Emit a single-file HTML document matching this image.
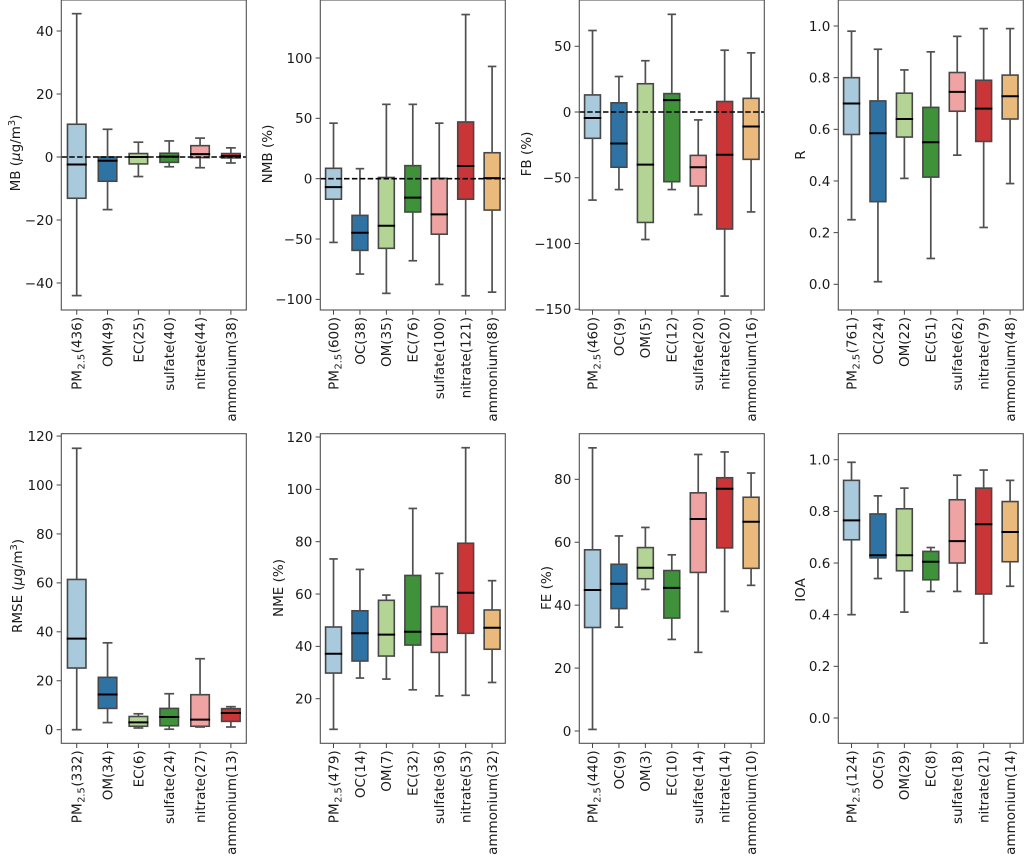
<!DOCTYPE html>
<html lang="en">
<head>
<meta charset="utf-8">
<title>Model performance statistics box plots</title>
<style>
html,body{margin:0;padding:0;background:#fff;}
svg{display:block;font-family:"DejaVu Sans","Liberation Sans",sans-serif;}
</style>
</head>
<body>
<svg id="figure" xmlns="http://www.w3.org/2000/svg" width="1024" height="856" viewBox="0 0 1024 856"></svg>
<script>
// ---- MB ----
const mbNames = ["PM2.5","OM","EC","sulfate","nitrate","ammonium"];
const mbCounts = [436,49,25,40,44,38];
const mbLow = [-44,-16.7,-6.2,-3.1,-3.4,-1.9];
const mbQ1 = [-13.1,-7.7,-2.2,-1.7,-0.2,-0.3];
const mbMedian = [-2.4,-1.2,0,0.1,0.9,0.3];
const mbQ3 = [10.4,0,1.1,1.2,3.6,1.1];
const mbHigh = [45.5,8.8,4.7,5.1,6,2.9];
const mbTicks = [-40,-20,0,20,40];
const mbDomain = [-48.57,49.84];
// ---- NMB ----
const nmbNames = ["PM2.5","OC","OM","EC","sulfate","nitrate","ammonium"];
const nmbCounts = [600,38,35,76,100,121,88];
const nmbLow = [-52.8,-79,-95,-68,-87.6,-97,-94];
const nmbQ1 = [-17,-59.4,-57.7,-27.6,-46,-17,-26];
const nmbMedian = [-7,-44.8,-39,-15.7,-29.6,10.5,0.5];
const nmbQ3 = [8.6,-30.4,1,10.8,0.3,47,21.5];
const nmbHigh = [46,8.3,61.6,61.6,46,136,93];
const nmbTicks = [-100,-50,0,50,100];
const nmbDomain = [-108.8,148.05];
// ---- FB ----
const fbNames = ["PM2.5","OC","OM","EC","sulfate","nitrate","ammonium"];
const fbCounts = [460,9,5,12,20,20,16];
const fbLow = [-67,-59,-97,-59,-78,-140,-76];
const fbQ1 = [-20,-42,-84,-53,-56.3,-89,-36];
const fbMedian = [-4.6,-24,-40,9,-42,-32.5,-11];
const fbQ3 = [13,7,21.5,14,-33,8,10.4];
const fbHigh = [62,27,39,74.3,-6,47,45];
const fbTicks = [-150,-100,-50,0,50];
const fbDomain = [-150.6,85.2];
// ---- R ----
const rNames = ["PM2.5","OC","OM","EC","sulfate","nitrate","ammonium"];
const rCounts = [761,24,22,51,62,79,48];
const rLow = [0.25,0.01,0.41,0.10,0.50,0.22,0.39];
const rQ1 = [0.58,0.32,0.57,0.415,0.67,0.553,0.64];
const rMedian = [0.70,0.585,0.64,0.55,0.745,0.68,0.728];
const rQ3 = [0.80,0.71,0.74,0.685,0.82,0.79,0.81];
const rHigh = [0.98,0.91,0.83,0.90,0.96,0.99,0.99];
const rTicks = [0,0.2,0.4,0.6,0.8,1];
const rDomain = [-0.0995,1.1007];
// ---- RMSE ----
const rmseNames = ["PM2.5","OM","EC","sulfate","nitrate","ammonium"];
const rmseCounts = [332,34,6,24,27,13];
const rmseLow = [0,2.9,0.7,0.2,1.1,1.1];
const rmseQ1 = [25.2,8.7,1.4,1.6,1.4,3.4];
const rmseMedian = [37.2,14.4,3,5.2,4.1,6.8];
const rmseQ3 = [61.4,21.4,5.4,8.7,14.3,8.6];
const rmseHigh = [115,35.5,6.5,14.7,29,9.4];
const rmseTicks = [0,20,40,60,80,100,120];
const rmseDomain = [-5.56,120.96];
// ---- NME ----
const nmeNames = ["PM2.5","OC","OM","EC","sulfate","nitrate","ammonium"];
const nmeCounts = [479,14,7,32,36,53,32];
const nmeLow = [8.3,27.9,27.5,23.4,21.1,21.3,26.2];
const nmeQ1 = [29.8,34.4,36.3,40.5,37.7,45,38.9];
const nmeMedian = [37.2,45,44.5,45.6,44.7,60.5,47.1];
const nmeQ3 = [47.4,53.6,57.6,67.1,55.2,79.4,53.9];
const nmeHigh = [73.4,69.4,59.6,92.7,67.9,115.9,65.1];
const nmeTicks = [20,40,60,80,100,120];
const nmeDomain = [2.96,121.26];
// ---- FE ----
const feNames = ["PM2.5","OC","OM","EC","sulfate","nitrate","ammonium"];
const feCounts = [440,9,3,10,14,14,10];
const feLow = [0.5,33,45,29.1,25,38,46.3];
const feQ1 = [32.9,38.9,48.4,35.9,50.4,58.2,51.7];
const feMedian = [44.8,46.8,51.9,45.5,67.4,77,66.5];
const feQ3 = [57.6,53,58.3,51,75.7,80.5,74.3];
const feHigh = [90,62,64.7,56,87.9,88.7,82];
const feTicks = [0,20,40,60,80];
const feDomain = [-3.91,94.5];
// ---- IOA ----
const ioaNames = ["PM2.5","OC","OM","EC","sulfate","nitrate","ammonium"];
const ioaCounts = [124,5,29,8,18,21,14];
const ioaLow = [0.40,0.54,0.41,0.49,0.49,0.29,0.51];
const ioaQ1 = [0.69,0.62,0.57,0.535,0.60,0.48,0.605];
const ioaMedian = [0.765,0.63,0.63,0.605,0.685,0.75,0.72];
const ioaQ3 = [0.92,0.79,0.81,0.645,0.845,0.89,0.838];
const ioaHigh = [0.99,0.86,0.89,0.66,0.94,0.96,0.92];
const ioaTicks = [0,0.2,0.4,0.6,0.8,1];
const ioaDomain = [-0.098,1.1007];

const boxColors = ["#a9c9dc","#2f73a5","#b3d495","#3f913a","#efa3a2","#ca3537","#e9ba7c"];
const SVG_NS = "http://www.w3.org/2000/svg";
const figure = document.getElementById("figure");

function make(tag, attrs, parent) {
  const node = document.createElementNS(SVG_NS, tag);
  for (const key in attrs) node.setAttribute(key, attrs[key]);
  parent.appendChild(node);
  return node;
}

function tickText(v, decimals) {
  const s = Math.abs(v).toFixed(decimals);
  return (v < 0 ? "\u2212" : "") + s;
}

function addYTitle(textEl, title) {
  if (title.unit) {
    textEl.appendChild(document.createTextNode(title.name + " ("));
    const mu = make("tspan", {"font-style":"italic"}, textEl);
    mu.textContent = "\u03bc";
    textEl.appendChild(document.createTextNode("g/m"));
    const sup = make("tspan", {"font-size":"9.8","dy":"-5"}, textEl);
    sup.textContent = "3";
    const close = make("tspan", {"dy":"5"}, textEl);
    close.textContent = ")";
  } else {
    textEl.textContent = title.name;
  }
}

function drawPanel(p) {
  const left = p.left, top = p.top, w = 185, h = p.height, bottom = top + h;
  const n = p.names.length;
  const step = w / n;
  const x = i => left + (i + 0.5) * step;
  const y = v => top + (p.domain[1] - v) / (p.domain[1] - p.domain[0]) * h;

  const g = make("g", {}, figure);
  
  

  const bg = make("rect", {x:left, y:top, width:w, height:h, fill:"#fff"}, g);
  
  

  for (let i = 0; i < n; i++) {
    const cx = x(i);
    const boxW = 0.6 * step;
    const capW = 0.3 * step + 0.6;
    const cat = p.names[i].toLowerCase().replace(".", "");

    const box = make("rect", {x:cx - boxW / 2, y:y(p.q3[i]), width:boxW, height:Math.abs(y(p.q1[i]) - y(p.q3[i])), fill:boxColors[i], stroke:"#474747", "stroke-width":1.6}, g);
    
    

    const whiskerHi = make("line", {x1:cx, x2:cx, y1:y(p.q3[i]), y2:y(p.high[i]), stroke:"#505050", "stroke-width":1.7}, g);
    
    

    const whiskerLo = make("line", {x1:cx, x2:cx, y1:y(p.q1[i]), y2:y(p.low[i]), stroke:"#505050", "stroke-width":1.7}, g);
    
    

    const capHi = make("line", {x1:cx - capW / 2, x2:cx + capW / 2, y1:y(p.high[i]), y2:y(p.high[i]), stroke:"#505050", "stroke-width":1.7}, g);
    
    

    const capLo = make("line", {x1:cx - capW / 2, x2:cx + capW / 2, y1:y(p.low[i]), y2:y(p.low[i]), stroke:"#505050", "stroke-width":1.7}, g);
    
    

    const med = make("line", {x1:cx - boxW / 2 - 0.8, x2:cx + boxW / 2 + 0.8, y1:y(p.median[i]), y2:y(p.median[i]), stroke:"#000", "stroke-width":2}, g);
    
    

    const tick = make("line", {x1:cx, x2:cx, y1:bottom, y2:bottom + 4.7, stroke:"#444", "stroke-width":1}, g);
    
    

    const label = make("text", {transform:"translate(" + cx + "," + (bottom + 7) + ") rotate(-90)", "text-anchor":"end", "font-size":"13.5", dy:"0.36em", fill:"#1a1a1a"}, g);
    
    
    if (p.names[i] === "PM2.5") {
      label.appendChild(document.createTextNode("PM"));
      const sub = make("tspan", {"font-size":"9.8", dy:"3", dx:"0.6"}, label);
      sub.textContent = "2.5";
      const rest = make("tspan", {dy:"-3", dx:"0.6"}, label);
      rest.textContent = "(" + p.counts[i] + ")";
    } else {
      label.textContent = p.names[i] + "(" + p.counts[i] + ")";
    }
  }

  if (p.zeroLine) {
    const zero = make("line", {x1:left, x2:left + w, y1:y(0), y2:y(0), stroke:"#000", "stroke-width":1.6, "stroke-dasharray":"5.5 2.4"}, g);
    
    
  }

  p.ticks.forEach(function (v) {
    const tick = make("line", {x1:left - 4.7, x2:left, y1:y(v), y2:y(v), stroke:"#444", "stroke-width":1}, g);
    
    

    const label = make("text", {x:left - 8, y:y(v), dy:"0.36em", "text-anchor":"end", "font-size":"13.5", fill:"#1a1a1a"}, g);
    
    
    label.textContent = tickText(v, p.decimals);
  });

  const frame = make("rect", {x:left, y:top, width:w, height:h, fill:"none", stroke:"#505050", "stroke-width":1.1}, g);
  
  

  const titleEl = make("text", {transform:"translate(" + p.titleX + "," + p.titleY + ") rotate(-90)", "text-anchor":"middle", "font-size":"13.5", dy:"0.36em", fill:"#1a1a1a"}, g);
  
  
  addYTitle(titleEl, p.title);
}

drawPanel({key:"mb", left:61.3, top:0, height:310, names:mbNames, counts:mbCounts, low:mbLow, q1:mbQ1, median:mbMedian, q3:mbQ3, high:mbHigh, ticks:mbTicks, domain:mbDomain, decimals:0, zeroLine:true, title:{name:"MB", unit:true}, titleX:15, titleY:153});
drawPanel({key:"nmb", left:320.3, top:0, height:310, names:nmbNames, counts:nmbCounts, low:nmbLow, q1:nmbQ1, median:nmbMedian, q3:nmbQ3, high:nmbHigh, ticks:nmbTicks, domain:nmbDomain, decimals:0, zeroLine:true, title:{name:"NMB (%)"}, titleX:267, titleY:154});
drawPanel({key:"fb", left:579.3, top:0, height:310, names:fbNames, counts:fbCounts, low:fbLow, q1:fbQ1, median:fbMedian, q3:fbQ3, high:fbHigh, ticks:fbTicks, domain:fbDomain, decimals:0, zeroLine:true, title:{name:"FB (%)"}, titleX:526, titleY:154});
drawPanel({key:"r", left:838.3, top:0, height:310, names:rNames, counts:rCounts, low:rLow, q1:rQ1, median:rMedian, q3:rQ3, high:rHigh, ticks:rTicks, domain:rDomain, decimals:1, zeroLine:false, title:{name:"R"}, titleX:800, titleY:155});
drawPanel({key:"rmse", left:61.3, top:433.7, height:309.6, names:rmseNames, counts:rmseCounts, low:rmseLow, q1:rmseQ1, median:rmseMedian, q3:rmseQ3, high:rmseHigh, ticks:rmseTicks, domain:rmseDomain, decimals:0, zeroLine:false, title:{name:"RMSE", unit:true}, titleX:17, titleY:586});
drawPanel({key:"nme", left:320.3, top:433.7, height:309.6, names:nmeNames, counts:nmeCounts, low:nmeLow, q1:nmeQ1, median:nmeMedian, q3:nmeQ3, high:nmeHigh, ticks:nmeTicks, domain:nmeDomain, decimals:0, zeroLine:false, title:{name:"NME (%)"}, titleX:278, titleY:588});
drawPanel({key:"fe", left:579.3, top:433.7, height:309.6, names:feNames, counts:feCounts, low:feLow, q1:feQ1, median:feMedian, q3:feQ3, high:feHigh, ticks:feTicks, domain:feDomain, decimals:0, zeroLine:false, title:{name:"FE (%)"}, titleX:546, titleY:588});
drawPanel({key:"ioa", left:838.3, top:433.7, height:309.6, names:ioaNames, counts:ioaCounts, low:ioaLow, q1:ioaQ1, median:ioaMedian, q3:ioaQ3, high:ioaHigh, ticks:ioaTicks, domain:ioaDomain, decimals:1, zeroLine:false, title:{name:"IOA"}, titleX:800, titleY:590});
</script>
</body>
</html>
